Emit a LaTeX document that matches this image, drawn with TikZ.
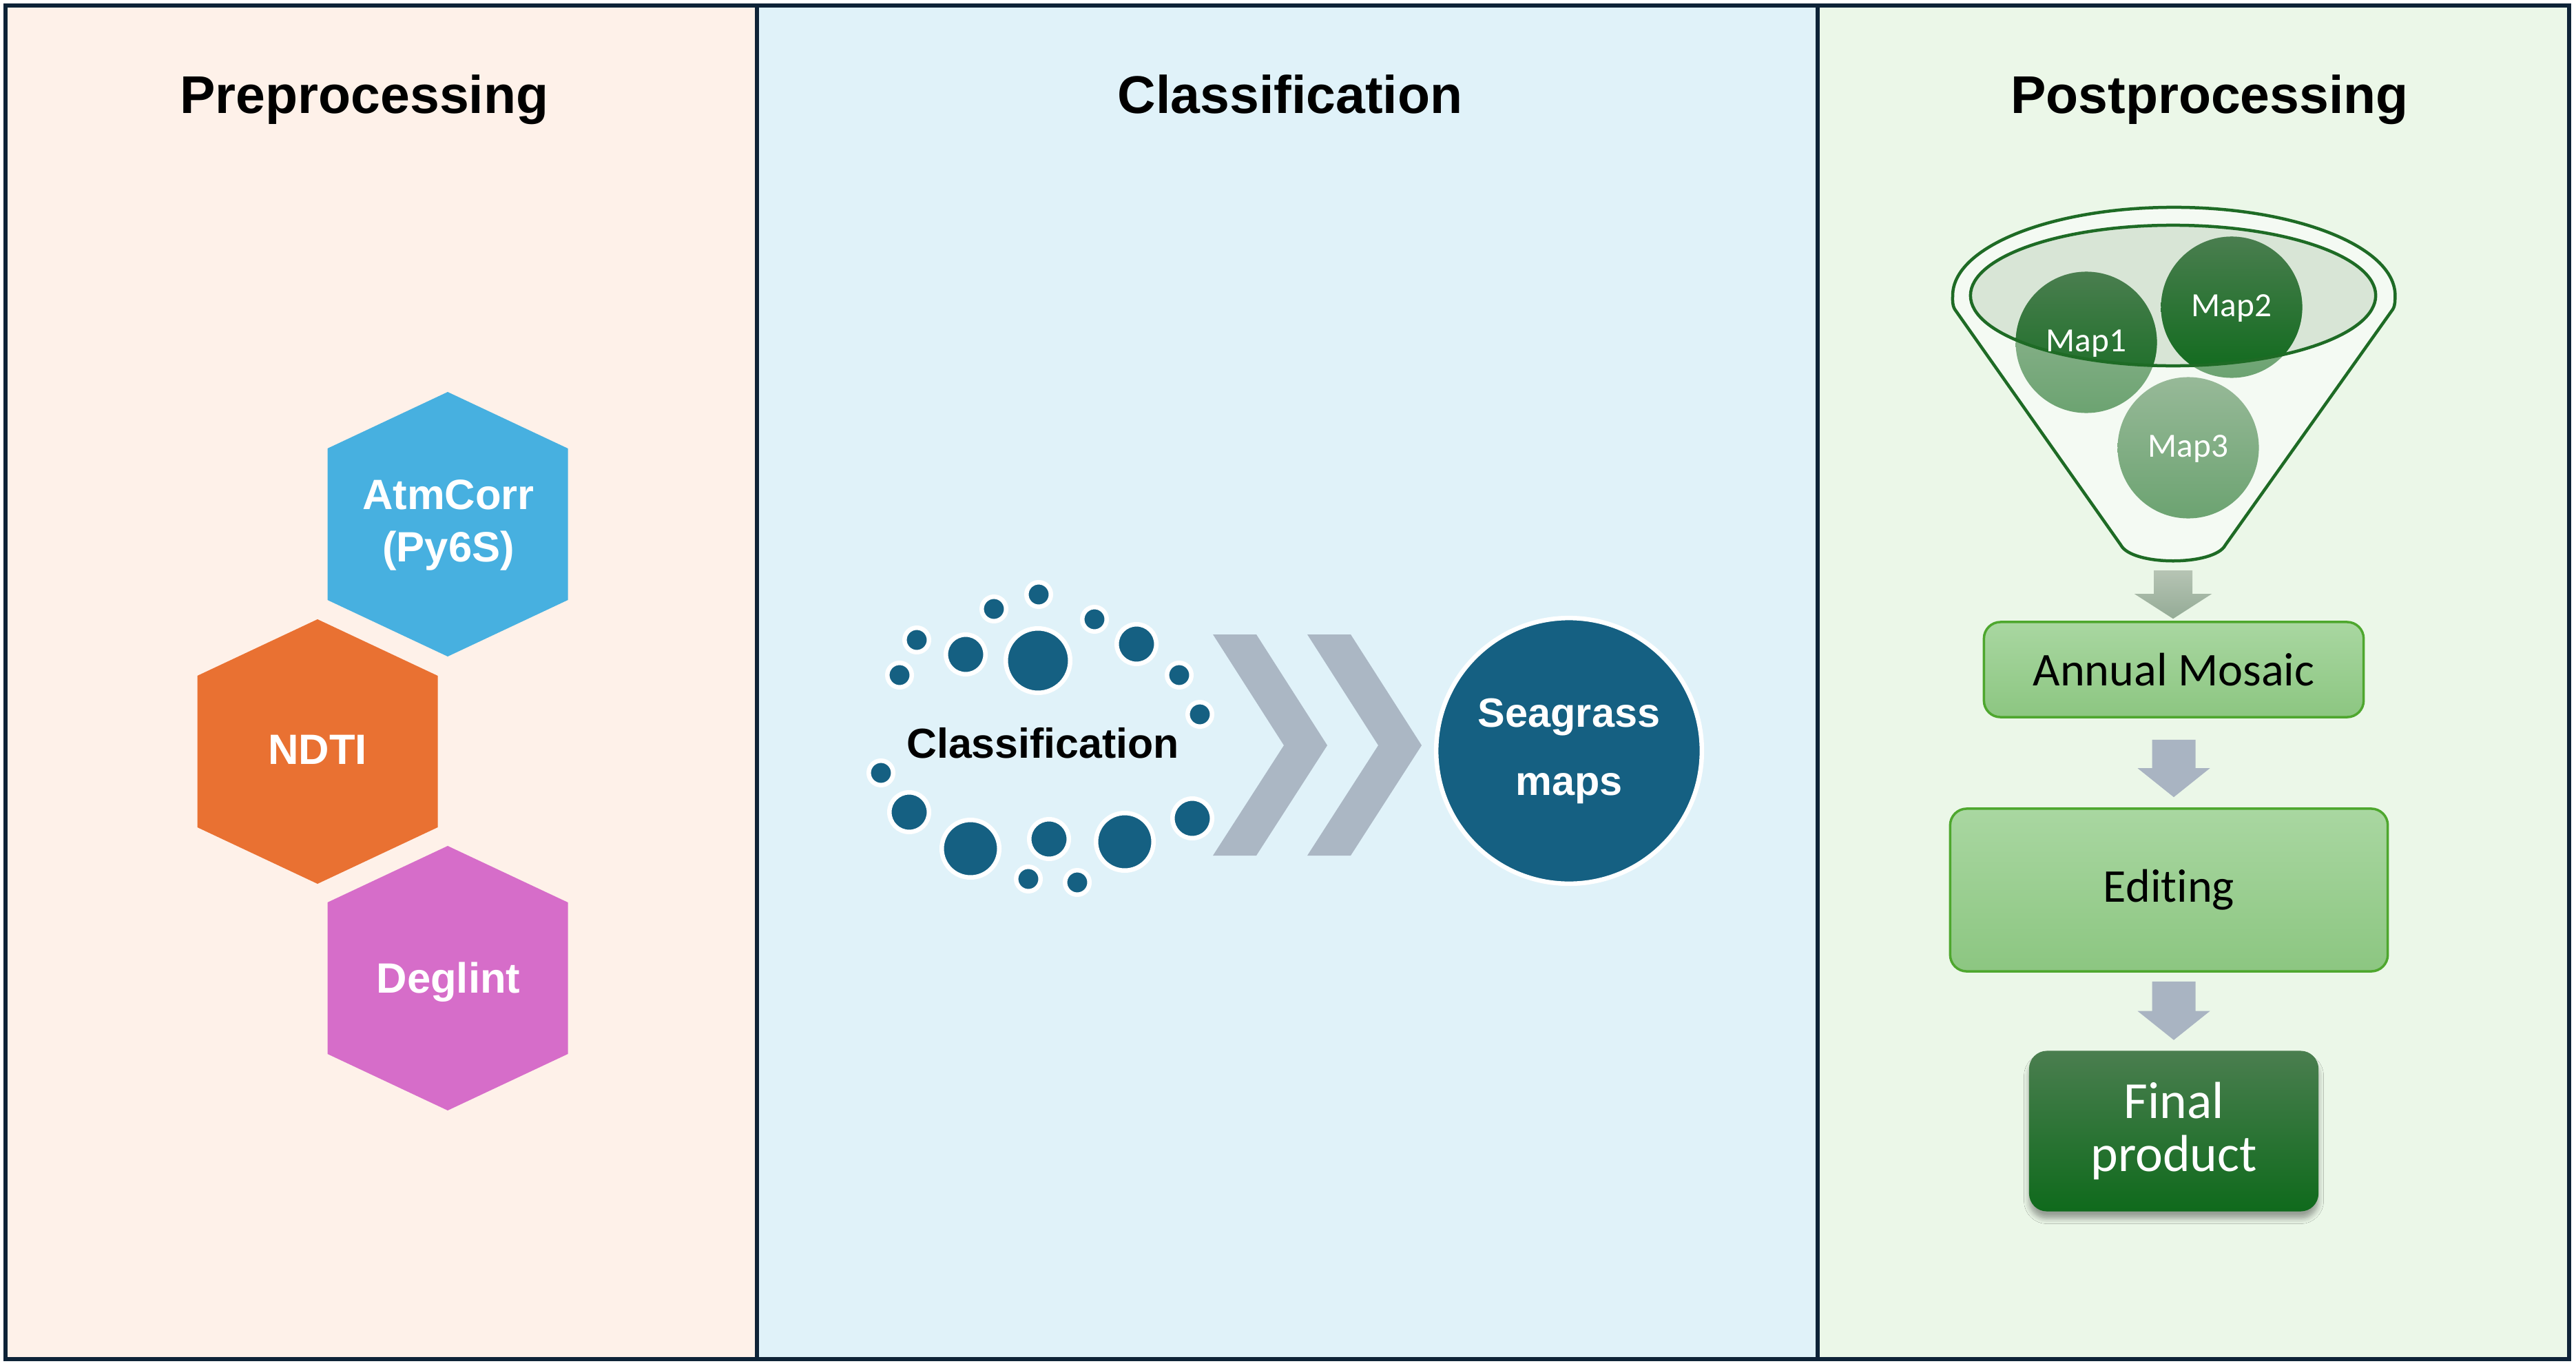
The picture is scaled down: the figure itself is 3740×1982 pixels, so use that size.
\documentclass[tikz,border=0pt]{standalone}
\usepackage{fontspec}
\setmainfont{Liberation Sans}
\newfontfamily\aptos[Ligatures={NoCommon}]{Carlito}
\usetikzlibrary{calc,shadows.blur}
\definecolor{peach}{HTML}{FEF1E9}
\definecolor{skyb}{HTML}{E0F2F9}
\definecolor{mint}{HTML}{EBF7E8}
\definecolor{frame}{HTML}{0E2337}
\definecolor{hexblue}{HTML}{47B0E0}
\definecolor{hexorange}{HTML}{E97132}
\definecolor{hexpink}{HTML}{D66DC9}
\definecolor{tealdot}{HTML}{156082}
\definecolor{chev}{HTML}{ABB7C4}
\definecolor{fgreen}{HTML}{1E6B25}
\definecolor{funnelfill}{HTML}{F4FAF3}
\definecolor{innerfill}{HTML}{D8E5D6}
\definecolor{fadetop}{HTML}{97B998}
\definecolor{fadebot}{HTML}{6CA371}
\definecolor{darktop}{HTML}{4A7E4F}
\definecolor{darkbot}{HTML}{0F6A1C}
\definecolor{boxtop}{HTML}{A9D7A1}
\definecolor{boxbot}{HTML}{8CC681}
\definecolor{boxedge}{HTML}{4EA72E}
\definecolor{arrowgray}{HTML}{A9B4C2}
\definecolor{arrowtop}{HTML}{B6C4B4}
\definecolor{arrowbot}{HTML}{94AB96}
\newcommand\hexagonat[3]{\fill[#3] (#1,#2-192) -- (#1+174.5,#2-110) -- (#1+174.5,#2+110) -- (#1,#2+192) -- (#1-174.5,#2+110) -- (#1-174.5,#2-110) -- cycle;}
\newcommand\chevronat[1]{\fill[chev] (#1,921) -- (#1+63,921) -- (#1+166,1082) -- (#1+63,1242) -- (#1,1242) -- (#1+103,1082) -- cycle;}
\newcommand\blockdown[6]{\path[#6] let \p1=(#1), \p2=(#2) in (\x1-#3,\y1) -- (\x1+#3,\y1) -- (\x1+#3,\y2+#5) -- (\x1+#4,\y2+#5) -- (\x1,\y2) -- (\x1-#4,\y2+#5) -- (\x1-#3,\y2+#5) -- cycle;}
\begin{document}
\begin{tikzpicture}[x=0.01cm,y=-0.01cm,
  title/.style={font=\fontsize{21.9}{26}\selectfont\bfseries, anchor=base, inner sep=0},
  hexlabel/.style={font=\fontsize{17.5}{21.6}\selectfont\bfseries, text=white, align=center, inner sep=0},
  dot/.style={fill=tealdot, draw=white, line width=0.065cm},
  maplabel/.style={font=\aptos\fontsize{14}{16}\selectfont, text=white, anchor=base, inner sep=0},
  greenbox/.style={rounded corners=0.24cm, draw=boxedge, line width=0.035cm, top color=boxtop, bottom color=boxbot, font=\aptos\fontsize{19.4}{23}\selectfont, inner sep=0},
  finalbox/.style={rounded corners=0.26cm, top color=darktop, bottom color=darkbot, text=white, align=center, font=\aptos\fontsize{21.5}{22}\selectfont, inner sep=0, blur shadow={shadow xshift=0pt, shadow yshift=-3pt, shadow blur steps=6, shadow opacity=35}}
]
\useasboundingbox (0,0) rectangle (3740,1982);
% panels
\fill[peach] (8,8) rectangle (1099,1973);
\fill[skyb] (1099,8) rectangle (2639,1973);
\fill[mint] (2639,8) rectangle (3730,1973);
\draw[frame, line width=0.06cm] (8,8) rectangle (3730,1973);
\draw[frame, line width=0.06cm] (1099,8) -- (1099,1973) (2639,8) -- (2639,1973);
% titles
\node[title] (t1) at (529,165) {Preprocessing};
\node[title] (t2) at (1873,165) {Classification};
\node[title] (t3) at (3208,165) {Postprocessing};
% preprocessing hexagons
\hexagonat{650}{761}{hexblue}
\hexagonat{461}{1091}{hexorange}
\hexagonat{650}{1420}{hexpink}
\node[hexlabel] (atm) at (651,762) {AtmCorr\\(Py6S)};
\node[hexlabel, anchor=base] (ndti) at (461,1109) {NDTI};
\node[hexlabel, anchor=base] (deg) at (651,1441) {Deglint};
% classification dots
\foreach \x/\y/\r in {1508/863/17.75, 1443/884/17.75, 1589/899/17.75, 1331/929/17.75, 1402/950/28.75, 1507/959/46.75, 1650/935/28.75, 1306/980/17.75, 1712/980/17.75, 1742/1037/17.75, 1279/1122/17.75, 1320/1179/28.75, 1409/1232/41.75, 1523/1218/28.75, 1633/1222/41.75, 1731/1188/28.75, 1493/1276/17.75, 1564/1281/17.75}
  \draw[dot] (\x,\y) circle[radius=\r];
\node[font=\fontsize{17.3}{20}\selectfont\bfseries, anchor=base, inner sep=0] (cls) at (1514,1100) {Classification};
\chevronat{1761}
\chevronat{1898}
\node[circle, fill=tealdot, draw=white, line width=0.065cm, minimum size=3.855cm, inner sep=0, font=\fontsize{16.9}{28.2}\selectfont\bfseries, text=white, align=center] (sea) at (2278,1090) {Seagrass\\maps};
% funnel
\filldraw[fill=funnelfill, draw=fgreen, line width=0.045cm] (2838,449) .. controls (2834,442) and (2835,435) .. (2835,429) arc[start angle=180, end angle=0, x radius=3.21cm, y radius=1.28cm] .. controls (3477,435) and (3478,442) .. (3474,449) -- (3231,791) .. controls (3215,822) and (3095,822) .. (3079,791) -- cycle;
\fill[innerfill] (3155,429) ellipse[x radius=2.94cm, y radius=1.02cm];
\foreach \x/\y in {3029/497, 3240/446, 3177/650}
  \shade[top color=fadetop, bottom color=fadebot] (\x,\y) circle[radius=1.025cm];
\begin{scope}
  \clip (3155,429) ellipse[x radius=2.94cm, y radius=1.02cm];
  \shade[top color=darktop, bottom color=darkbot] (3029,497) circle[radius=1.025cm];
  \shade[top color=darktop, bottom color=darkbot] (3240,446) circle[radius=1.025cm];
\end{scope}
\draw[fgreen, line width=0.045cm] (3155,429) ellipse[x radius=2.94cm, y radius=1.02cm];
\node[maplabel] (m1) at (3029,510) {Map1};
\node[maplabel] (m2) at (3240,459) {Map2};
\node[maplabel] (m3) at (3177,663) {Map3};
\coordinate (fbot) at (3155,814);
% boxes
\node[greenbox, minimum width=5.51cm, minimum height=1.38cm] (mosaic) at (3156,972) {Annual Mosaic};
\node[greenbox, minimum width=6.35cm, minimum height=2.36cm] (editing) at (3149,1292) {Editing};
\node[finalbox, minimum width=4.20cm, minimum height=2.33cm] (final) at (3156,1642) {Final\\product};
% block arrows
\coordinate (a1t) at ($(fbot)+(0,14)$);
\coordinate (a1h) at ($(mosaic.north)+(0,-3)$);
\coordinate (a2t) at ($(mosaic.south)+(0,31)$);
\coordinate (a2h) at ($(mosaic.south |- editing.north)+(0,-15)$);
\coordinate (a3t) at ($(final.north |- editing.south)+(0,13)$);
\coordinate (a3h) at ($(final.north)+(0,-15)$);
\blockdown{a1t}{a1h}{0.28cm}{0.56cm}{0.36cm}{top color=arrowtop, bottom color=arrowbot}
\blockdown{a2t}{a2h}{0.315cm}{0.525cm}{0.42cm}{fill=arrowgray}
\blockdown{a3t}{a3h}{0.315cm}{0.525cm}{0.42cm}{fill=arrowgray}
\end{tikzpicture}
\end{document}
